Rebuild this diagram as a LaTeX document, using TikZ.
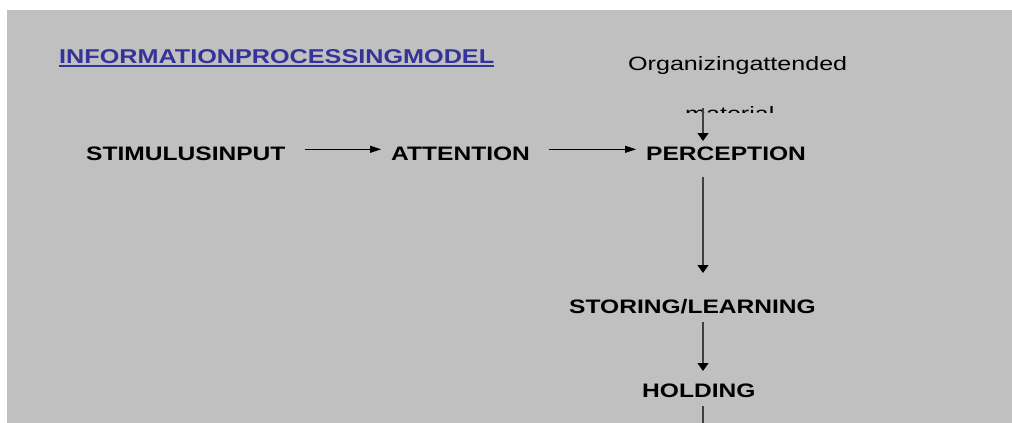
\documentclass[tikz,border=0pt]{standalone}
\usepackage{fontspec}
\newfontfamily\bwide{Liberation Sans}[FakeStretch=1.26]
\newfontfamily\rwide{Liberation Sans}[FakeStretch=1.3]
\usetikzlibrary{arrows.meta}
\definecolor{bg}{HTML}{C0C0C0}
\definecolor{ttl}{HTML}{333399}
\definecolor{vcol}{HTML}{404040}
\tikzset{
  lbl/.style={inner sep=0pt, anchor=base west, font=\bwide\bfseries\fontsize{19.5pt}{24pt}\selectfont, text=black},
  ttlstyle/.style={inner sep=0pt, anchor=base west, font=\bwide\bfseries\fontsize{20pt}{24pt}\selectfont, text=ttl},
  note/.style={inner sep=0pt, anchor=base west, font=\rwide\fontsize{19.3pt}{23pt}\selectfont, text=black},
  harr/.style={draw=black, line width=1.2pt, -{Triangle[length=11pt,width=7pt,color=black]}},
  varr/.style={draw=vcol, line width=1.3pt, -{Triangle[length=8pt,width=11pt,color=black]}},
  vln/.style={draw=vcol, line width=1.3pt}
}
\begin{document}
\begin{tikzpicture}[x=1pt,y=-1pt]
\useasboundingbox (0,0) rectangle (1012,423);
\fill[bg] (7,10) rectangle (1012,423);
% title
\node[ttlstyle] (title) at (59,63) {INFORMATIONPROCESSINGMODEL};
\draw[ttl, line width=1.5pt] ([yshift=-3pt]title.base west) -- ([yshift=-3pt]title.base east);
% note
\node[note] (org) at (628,70) {Organizingattended};
\begin{scope}
  \clip (600,90) rectangle (900,112.5);
  \node[note] (mat) at (685,120.5) {material};
\end{scope}
% main nodes
\node[lbl] (si) at (86,160) {STIMULUSINPUT};
\node[lbl] (att) at (391,160) {ATTENTION};
\node[lbl] (per) at (646,160) {PERCEPTION};
\node[lbl] (sto) at (569,313) {STORING/LEARNING};
\node[lbl] (hol) at (642,397) {HOLDING};
\coordinate (x0) at (703,0);
\coordinate (bot) at (703,424);
% horizontal arrows
\draw[harr] ([xshift=19pt,yshift=10.7pt]si.base east) -- ([xshift=-10pt,yshift=10.7pt]att.base west);
\draw[harr] ([xshift=19pt,yshift=10.7pt]att.base east) -- ([xshift=-10pt,yshift=10.7pt]per.base west);
% vertical arrows
\draw[varr] ([yshift=12.5pt]x0 |- mat.base) -- ([yshift=19pt]x0 |- per.base);
\draw[varr] ([yshift=-17pt]x0 |- per.base) -- ([yshift=40pt]x0 |- sto.base);
\draw[varr] ([yshift=-9pt]x0 |- sto.base) -- ([yshift=26pt]x0 |- hol.base);
\draw[vln] ([yshift=-9pt]x0 |- hol.base) -- (bot);
\end{tikzpicture}
\end{document}
